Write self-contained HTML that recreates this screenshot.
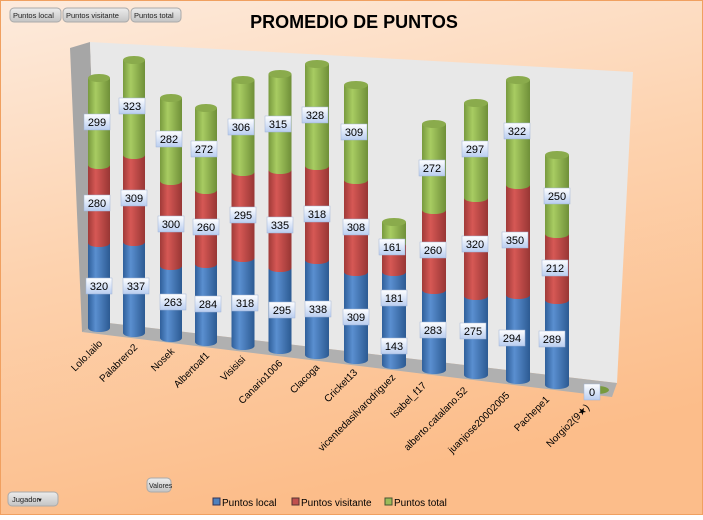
<!DOCTYPE html>
<html><head><meta charset="utf-8"><style>
html,body{margin:0;padding:0;}
body{width:703px;height:515px;overflow:hidden;font-family:"Liberation Sans",sans-serif;}
</style></head><body>
<svg width="703" height="515" xmlns="http://www.w3.org/2000/svg" font-family="Liberation Sans, sans-serif">
<defs>
<linearGradient id="bg" x1="0" y1="0" x2="0.3" y2="1"><stop offset="0" stop-color="#fdebdd"/><stop offset="0.5" stop-color="#fdd2ae"/><stop offset="1" stop-color="#fcbd8a"/></linearGradient>
<linearGradient id="gb" x1="0" x2="1"><stop offset="0" stop-color="#2f5f9a"/><stop offset="0.35" stop-color="#5a8fd0"/><stop offset="1" stop-color="#2c5a92"/></linearGradient>
<linearGradient id="gr" x1="0" x2="1"><stop offset="0" stop-color="#a03a38"/><stop offset="0.35" stop-color="#d65855"/><stop offset="1" stop-color="#983634"/></linearGradient>
<linearGradient id="gg" x1="0" x2="1"><stop offset="0" stop-color="#789a3e"/><stop offset="0.35" stop-color="#a8cc62"/><stop offset="1" stop-color="#6f8f38"/></linearGradient>
<linearGradient id="lb" x1="0" y1="0" x2="0" y2="1"><stop offset="0" stop-color="#ffffff"/><stop offset="1" stop-color="#b9cdf0"/></linearGradient>
<linearGradient id="btn" x1="0" y1="0" x2="0" y2="1"><stop offset="0" stop-color="#ececec"/><stop offset="1" stop-color="#c4c4c4"/></linearGradient>
</defs>
<rect x="0.5" y="0.5" width="702" height="514" fill="url(#bg)" stroke="#f0a060"/>
<g font-size="7.5" fill="#222">
<rect x="10" y="8" width="51" height="14" rx="4" fill="url(#btn)" stroke="#aaa"/><text x="13" y="18">Puntos local</text>
<rect x="63" y="8" width="66" height="14" rx="4" fill="url(#btn)" stroke="#aaa"/><text x="66" y="18">Puntos visitante</text>
<rect x="131" y="8" width="50" height="14" rx="4" fill="url(#btn)" stroke="#aaa"/><text x="134" y="18">Puntos total</text>
<rect x="8" y="492" width="50" height="14" rx="4" fill="url(#btn)" stroke="#aaa"/><text x="12" y="502">Jugador</text><text x="37" y="502" font-size="6">▼</text>
<rect x="147" y="478" width="24" height="14" rx="4" fill="url(#btn)" stroke="#aaa"/><text x="149" y="488" font-size="7">Valores</text>
</g>
<text x="354" y="28" font-size="18" font-weight="bold" text-anchor="middle" fill="#000">PROMEDIO DE PUNTOS</text>
<polygon points="70,48 90,42 100,322 82,332" fill="#a6a6a6"/>
<polygon points="90,42 633,72 617,383 100,322" fill="#e8e8e8"/>
<polygon points="100,322 617,383 612,397 82,332" fill="#b0b0b0"/>
<g>
<g transform="translate(99,0)"><rect x="-11" y="243" width="22" height="85" fill="url(#gb)"/><ellipse cx="0" cy="328" rx="11" ry="4" fill="url(#gb)"/><rect x="-11" y="165" width="22" height="78" fill="url(#gr)"/><ellipse cx="0" cy="243" rx="11" ry="4" fill="url(#gr)"/><rect x="-11" y="78" width="22" height="87" fill="url(#gg)"/><ellipse cx="0" cy="165" rx="11" ry="4" fill="url(#gg)"/><ellipse cx="0" cy="78" rx="11" ry="4" fill="#8aab4c"/></g>
<g transform="translate(134,0)"><rect x="-11" y="242" width="22" height="91" fill="url(#gb)"/><ellipse cx="0" cy="333" rx="11" ry="4" fill="url(#gb)"/><rect x="-11" y="155" width="22" height="87" fill="url(#gr)"/><ellipse cx="0" cy="242" rx="11" ry="4" fill="url(#gr)"/><rect x="-11" y="60" width="22" height="95" fill="url(#gg)"/><ellipse cx="0" cy="155" rx="11" ry="4" fill="url(#gg)"/><ellipse cx="0" cy="60" rx="11" ry="4" fill="#8aab4c"/></g>
<g transform="translate(171,0)"><rect x="-11" y="266" width="22" height="72" fill="url(#gb)"/><ellipse cx="0" cy="338" rx="11" ry="4" fill="url(#gb)"/><rect x="-11" y="181" width="22" height="85" fill="url(#gr)"/><ellipse cx="0" cy="266" rx="11" ry="4" fill="url(#gr)"/><rect x="-11" y="98" width="22" height="83" fill="url(#gg)"/><ellipse cx="0" cy="181" rx="11" ry="4" fill="url(#gg)"/><ellipse cx="0" cy="98" rx="11" ry="4" fill="#8aab4c"/></g>
<g transform="translate(206,0)"><rect x="-11" y="264" width="22" height="78" fill="url(#gb)"/><ellipse cx="0" cy="342" rx="11" ry="4" fill="url(#gb)"/><rect x="-11" y="190" width="22" height="74" fill="url(#gr)"/><ellipse cx="0" cy="264" rx="11" ry="4" fill="url(#gr)"/><rect x="-11" y="108" width="22" height="82" fill="url(#gg)"/><ellipse cx="0" cy="190" rx="11" ry="4" fill="url(#gg)"/><ellipse cx="0" cy="108" rx="11" ry="4" fill="#8aab4c"/></g>
<g transform="translate(243,0)"><rect x="-11.5" y="258" width="23" height="88" fill="url(#gb)"/><ellipse cx="0" cy="346" rx="11.5" ry="4" fill="url(#gb)"/><rect x="-11.5" y="172" width="23" height="86" fill="url(#gr)"/><ellipse cx="0" cy="258" rx="11.5" ry="4" fill="url(#gr)"/><rect x="-11.5" y="80" width="23" height="92" fill="url(#gg)"/><ellipse cx="0" cy="172" rx="11.5" ry="4" fill="url(#gg)"/><ellipse cx="0" cy="80" rx="11.5" ry="4" fill="#8aab4c"/></g>
<g transform="translate(280,0)"><rect x="-11.5" y="268" width="23" height="82" fill="url(#gb)"/><ellipse cx="0" cy="350" rx="11.5" ry="4" fill="url(#gb)"/><rect x="-11.5" y="170" width="23" height="98" fill="url(#gr)"/><ellipse cx="0" cy="268" rx="11.5" ry="4" fill="url(#gr)"/><rect x="-11.5" y="74" width="23" height="96" fill="url(#gg)"/><ellipse cx="0" cy="170" rx="11.5" ry="4" fill="url(#gg)"/><ellipse cx="0" cy="74" rx="11.5" ry="4" fill="#8aab4c"/></g>
<g transform="translate(317,0)"><rect x="-12" y="260" width="24" height="95" fill="url(#gb)"/><ellipse cx="0" cy="355" rx="12" ry="4" fill="url(#gb)"/><rect x="-12" y="166" width="24" height="94" fill="url(#gr)"/><ellipse cx="0" cy="260" rx="12" ry="4" fill="url(#gr)"/><rect x="-12" y="64" width="24" height="102" fill="url(#gg)"/><ellipse cx="0" cy="166" rx="12" ry="4" fill="url(#gg)"/><ellipse cx="0" cy="64" rx="12" ry="4" fill="#8aab4c"/></g>
<g transform="translate(356,0)"><rect x="-12" y="272" width="24" height="88" fill="url(#gb)"/><ellipse cx="0" cy="360" rx="12" ry="4" fill="url(#gb)"/><rect x="-12" y="180" width="24" height="92" fill="url(#gr)"/><ellipse cx="0" cy="272" rx="12" ry="4" fill="url(#gr)"/><rect x="-12" y="85" width="24" height="95" fill="url(#gg)"/><ellipse cx="0" cy="180" rx="12" ry="4" fill="url(#gg)"/><ellipse cx="0" cy="85" rx="12" ry="4" fill="#8aab4c"/></g>
<g transform="translate(394,0)"><rect x="-12" y="272" width="24" height="93" fill="url(#gb)"/><ellipse cx="0" cy="365" rx="12" ry="4" fill="url(#gb)"/><rect x="-12" y="244" width="24" height="28" fill="url(#gr)"/><ellipse cx="0" cy="272" rx="12" ry="4" fill="url(#gr)"/><rect x="-12" y="222" width="24" height="22" fill="url(#gg)"/><ellipse cx="0" cy="244" rx="12" ry="4" fill="url(#gg)"/><ellipse cx="0" cy="222" rx="12" ry="4" fill="#8aab4c"/></g>
<g transform="translate(434,0)"><rect x="-12" y="290" width="24" height="80" fill="url(#gb)"/><ellipse cx="0" cy="370" rx="12" ry="4" fill="url(#gb)"/><rect x="-12" y="210" width="24" height="80" fill="url(#gr)"/><ellipse cx="0" cy="290" rx="12" ry="4" fill="url(#gr)"/><rect x="-12" y="124" width="24" height="86" fill="url(#gg)"/><ellipse cx="0" cy="210" rx="12" ry="4" fill="url(#gg)"/><ellipse cx="0" cy="124" rx="12" ry="4" fill="#8aab4c"/></g>
<g transform="translate(476,0)"><rect x="-12" y="296" width="24" height="79" fill="url(#gb)"/><ellipse cx="0" cy="375" rx="12" ry="4" fill="url(#gb)"/><rect x="-12" y="198" width="24" height="98" fill="url(#gr)"/><ellipse cx="0" cy="296" rx="12" ry="4" fill="url(#gr)"/><rect x="-12" y="103" width="24" height="95" fill="url(#gg)"/><ellipse cx="0" cy="198" rx="12" ry="4" fill="url(#gg)"/><ellipse cx="0" cy="103" rx="12" ry="4" fill="#8aab4c"/></g>
<g transform="translate(518,0)"><rect x="-12" y="295" width="24" height="85" fill="url(#gb)"/><ellipse cx="0" cy="380" rx="12" ry="4" fill="url(#gb)"/><rect x="-12" y="185" width="24" height="110" fill="url(#gr)"/><ellipse cx="0" cy="295" rx="12" ry="4" fill="url(#gr)"/><rect x="-12" y="80" width="24" height="105" fill="url(#gg)"/><ellipse cx="0" cy="185" rx="12" ry="4" fill="url(#gg)"/><ellipse cx="0" cy="80" rx="12" ry="4" fill="#8aab4c"/></g>
<g transform="translate(557,0)"><rect x="-12" y="300" width="24" height="85" fill="url(#gb)"/><ellipse cx="0" cy="385" rx="12" ry="4" fill="url(#gb)"/><rect x="-12" y="234" width="24" height="66" fill="url(#gr)"/><ellipse cx="0" cy="300" rx="12" ry="4" fill="url(#gr)"/><rect x="-12" y="155" width="24" height="79" fill="url(#gg)"/><ellipse cx="0" cy="234" rx="12" ry="4" fill="url(#gg)"/><ellipse cx="0" cy="155" rx="12" ry="4" fill="#8aab4c"/></g>
<ellipse cx="597" cy="390" rx="12" ry="4" fill="#789a3e"/>
</g>
<g font-size="11" text-anchor="middle" fill="#000">
<g fill="url(#lb)" stroke="#9fb3d6" stroke-width="0.5">
<rect x="84" y="114" width="26" height="16"/><rect x="84" y="195" width="26" height="16"/><rect x="86" y="278" width="26" height="16"/>
<rect x="119" y="98" width="26" height="16"/><rect x="121" y="190" width="26" height="16"/><rect x="123" y="278" width="26" height="16"/>
<rect x="156" y="131" width="26" height="16"/><rect x="158" y="216" width="26" height="16"/><rect x="160" y="294" width="26" height="16"/>
<rect x="191" y="141" width="26" height="16"/><rect x="193" y="219" width="26" height="16"/><rect x="195" y="296" width="26" height="16"/>
<rect x="228" y="119" width="26" height="16"/><rect x="230" y="207" width="26" height="16"/><rect x="232" y="295" width="26" height="16"/>
<rect x="265" y="116" width="26" height="16"/><rect x="267" y="217" width="26" height="16"/><rect x="269" y="302" width="26" height="16"/>
<rect x="302" y="107" width="26" height="16"/><rect x="304" y="206" width="26" height="16"/><rect x="305" y="301" width="26" height="16"/>
<rect x="341" y="124" width="26" height="16"/><rect x="343" y="219" width="26" height="16"/><rect x="343" y="309" width="26" height="16"/>
<rect x="379" y="239" width="26" height="16"/><rect x="381" y="290" width="26" height="16"/><rect x="381" y="338" width="26" height="16"/>
<rect x="419" y="160" width="26" height="16"/><rect x="420" y="242" width="26" height="16"/><rect x="420" y="322" width="26" height="16"/>
<rect x="462" y="141" width="26" height="16"/><rect x="462" y="236" width="26" height="16"/><rect x="460" y="323" width="26" height="16"/>
<rect x="504" y="123" width="26" height="16"/><rect x="502" y="232" width="26" height="16"/><rect x="499" y="330" width="26" height="16"/>
<rect x="544" y="188" width="26" height="16"/><rect x="542" y="260" width="26" height="16"/><rect x="539" y="331" width="26" height="16"/>
<rect x="584" y="384" width="16" height="16"/>
</g>
<text x="97" y="126">299</text><text x="97" y="207">280</text><text x="99" y="290">320</text>
<text x="132" y="110">323</text><text x="134" y="202">309</text><text x="136" y="290">337</text>
<text x="169" y="143">282</text><text x="171" y="228">300</text><text x="173" y="306">263</text>
<text x="204" y="153">272</text><text x="206" y="231">260</text><text x="208" y="308">284</text>
<text x="241" y="131">306</text><text x="243" y="219">295</text><text x="245" y="307">318</text>
<text x="278" y="128">315</text><text x="280" y="229">335</text><text x="282" y="314">295</text>
<text x="315" y="119">328</text><text x="317" y="218">318</text><text x="318" y="313">338</text>
<text x="354" y="136">309</text><text x="356" y="231">308</text><text x="356" y="321">309</text>
<text x="392" y="251">161</text><text x="394" y="302">181</text><text x="394" y="350">143</text>
<text x="432" y="172">272</text><text x="433" y="254">260</text><text x="433" y="334">283</text>
<text x="475" y="153">297</text><text x="475" y="248">320</text><text x="473" y="335">275</text>
<text x="517" y="135">322</text><text x="515" y="244">350</text><text x="512" y="342">294</text>
<text x="557" y="200">250</text><text x="555" y="272">212</text><text x="552" y="343">289</text>
<text x="592" y="396">0</text>
</g>
<g font-size="10" text-anchor="end" fill="#000">
<text transform="translate(103,344) rotate(-45)">Lolo.lailo</text>
<text transform="translate(138,348) rotate(-45)">Palabrero2</text>
<text transform="translate(175,352) rotate(-45)">Nosek</text>
<text transform="translate(210,356) rotate(-45)">Albertoaf1</text>
<text transform="translate(246,360) rotate(-45)">Visisisi</text>
<text transform="translate(283,364) rotate(-45)">Canario1006</text>
<text transform="translate(320,368) rotate(-45)">Clacoga</text>
<text transform="translate(358,373) rotate(-45)">Cricket13</text>
<text transform="translate(396,378) rotate(-45)">vicentedasilvarodriguez</text>
<text transform="translate(427,386) rotate(-45)">Isabel_f17</text>
<text transform="translate(468,391) rotate(-45)">alberto.catalano.52</text>
<text transform="translate(510,396) rotate(-45)">juanjose20002005</text>
<text transform="translate(550,400) rotate(-45)">Pachepe1</text>
<text transform="translate(590,408) rotate(-45)">Norgio2(9★)</text>
</g>
<g font-size="10" fill="#000">
<rect x="213" y="498" width="7" height="7" fill="#4f81bd" stroke="#335"/><text x="222" y="506">Puntos local</text>
<rect x="292" y="498" width="7" height="7" fill="#c0504d" stroke="#533"/><text x="301" y="506">Puntos visitante</text>
<rect x="385" y="498" width="7" height="7" fill="#9bbb59" stroke="#453"/><text x="394" y="506">Puntos total</text>
</g>
</svg>
</body></html>
